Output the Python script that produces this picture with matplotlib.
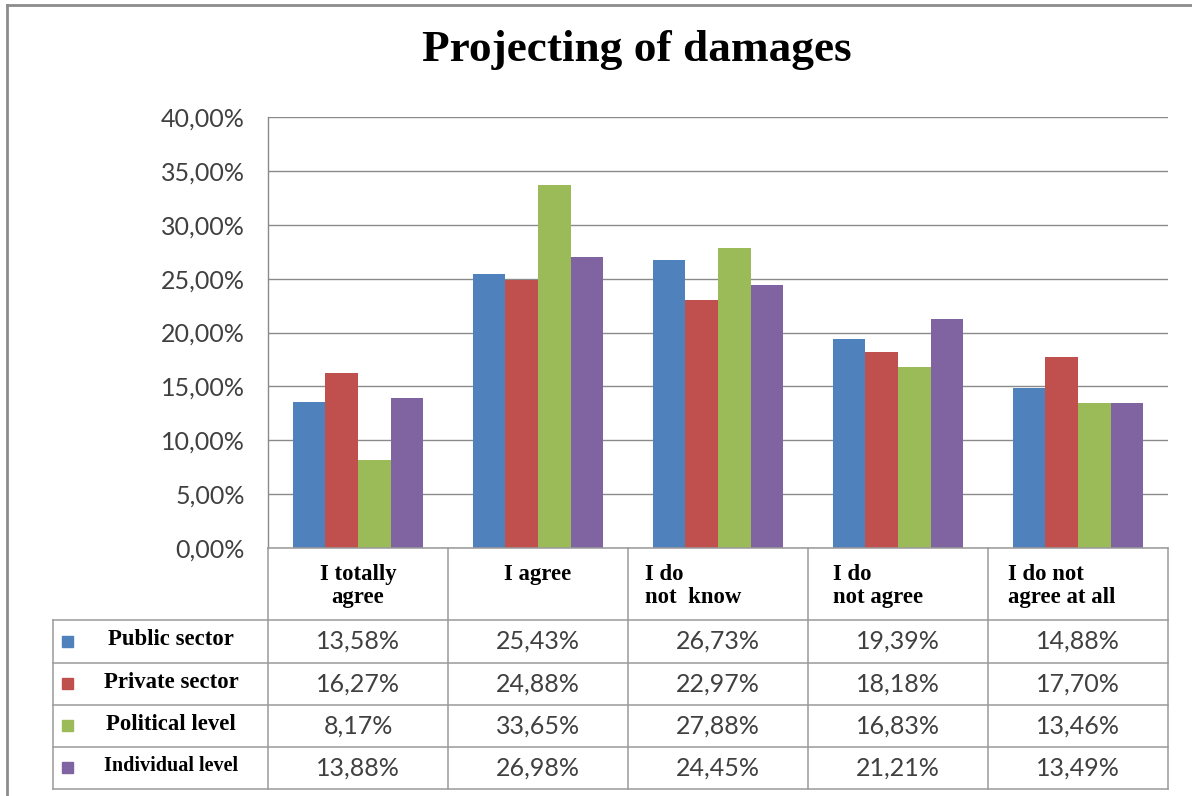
import matplotlib
matplotlib.use("Agg")
import matplotlib.pyplot as plt
import numpy as np

categories = ["I totally\nagree", "I agree", "I do\nnot  know", "I do\nnot agree", "I do not\nagree at all"]
header_align = ["center", "center", "left", "left", "left"]
series_names = ["Public sector", "Private sector", "Political level", "Individual level"]
public_sector = [13.58, 25.43, 26.73, 19.39, 14.88]
private_sector = [16.27, 24.88, 22.97, 18.18, 17.70]
political_level = [8.17, 33.65, 27.88, 16.83, 13.46]
individual_level = [13.88, 26.98, 24.45, 21.21, 13.49]
series_values = [public_sector, private_sector, political_level, individual_level]
colors = ["#4F81BD", "#C0504D", "#9BBB59", "#8064A2"]
yticks = [0, 5, 10, 15, 20, 25, 30, 35, 40]

W, H = 1192, 796
fig = plt.figure(figsize=(W / 100, H / 100), dpi=100)
fig.patch.set_facecolor("white")

L, R, T, B = 268, 1168, 117, 548
ax = fig.add_axes([L / W, 1 - B / H, (R - L) / W, (B - T) / H])
n = len(categories)
x = np.arange(n)
w = 1 / 5.5
for j, (vals, c) in enumerate(zip(series_values, colors)):
    ax.bar(x + (j - 1.5) * w, vals, width=w, color=c, zorder=3, linewidth=0)
ax.set_xlim(-0.5, n - 0.5)
ax.set_ylim(0, 40)
ax.set_yticks(yticks)
ax.set_yticklabels([f"{v:.2f}".replace(".", ",") + "%" for v in yticks],
                   fontsize=18, family="Lato", color="#404040")
ax.tick_params(axis="y", length=0, pad=16.5)
ax.tick_params(axis="x", length=0, labelbottom=False)
ax.grid(axis="y", color="#8a8a8a", linewidth=1.0, zorder=0)
for s in ["top", "right", "bottom"]:
    ax.spines[s].set_visible(False)
ax.spines["left"].set_color("#8a8a8a")
ax.spines["left"].set_linewidth(1.0)

ov = fig.add_axes([0, 0, 1, 1])
ov.set_xlim(0, W)
ov.set_ylim(H, 0)
ov.axis("off")
ov.patch.set_alpha(0)

lc = "#9a9a9a"
lw = 1.1
row_edges = [548, 620, 663, 705, 747, 789]
leg_left = 53
colw = (R - L) / n
for i in range(n + 1):
    xp = L + colw * i
    ov.plot([xp, xp], [row_edges[0], row_edges[-1]], color=lc, lw=lw)
ov.plot([L, R], [row_edges[0], row_edges[0]], color=lc, lw=lw)
for yy in row_edges[1:]:
    ov.plot([leg_left, R], [yy, yy], color=lc, lw=lw)
ov.plot([leg_left, leg_left], [row_edges[1], row_edges[-1]], color=lc, lw=lw)

left_offsets = [0, 0, 17, 25, 20]
for i, (cat, al) in enumerate(zip(categories, header_align)):
    x0 = L + colw * i
    xp = x0 + colw / 2 if al == "center" else x0 + left_offsets[i]
    ov.text(xp, 564, cat, ha=al, va="top", fontsize=16.4, fontweight="bold",
            family="Liberation Serif", color="black", linespacing=1.15)

for j, (name, vals, c) in enumerate(zip(series_names, series_values, colors)):
    yc = (row_edges[j + 1] + row_edges[j + 2]) / 2
    ov.add_patch(plt.Rectangle((62, yc - 6), 11, 11, color=c))
    fs = 14.5 if j == 3 else 16.4
    ov.text(171, yc - 2, name, ha="center", va="center", fontsize=fs,
            fontweight="bold", family="Liberation Serif", color="black")
    for i, v in enumerate(vals):
        xp = L + colw * (i + 0.5)
        ov.text(xp, yc, f"{v:.2f}".replace(".", ",") + "%", ha="center", va="center",
                fontsize=18, family="Lato", color="#404040")

ov.text(637, 50, "Projecting of damages", ha="center", va="center", fontsize=32.6,
        fontweight="bold", family="Liberation Serif", color="black")

ov.plot([7, 7], [5, H + 5], color="#8c8c8c", lw=2)
ov.plot([7, W + 5], [5, 5], color="#8c8c8c", lw=2)

fig.savefig("out.png", dpi=100, facecolor="white")
